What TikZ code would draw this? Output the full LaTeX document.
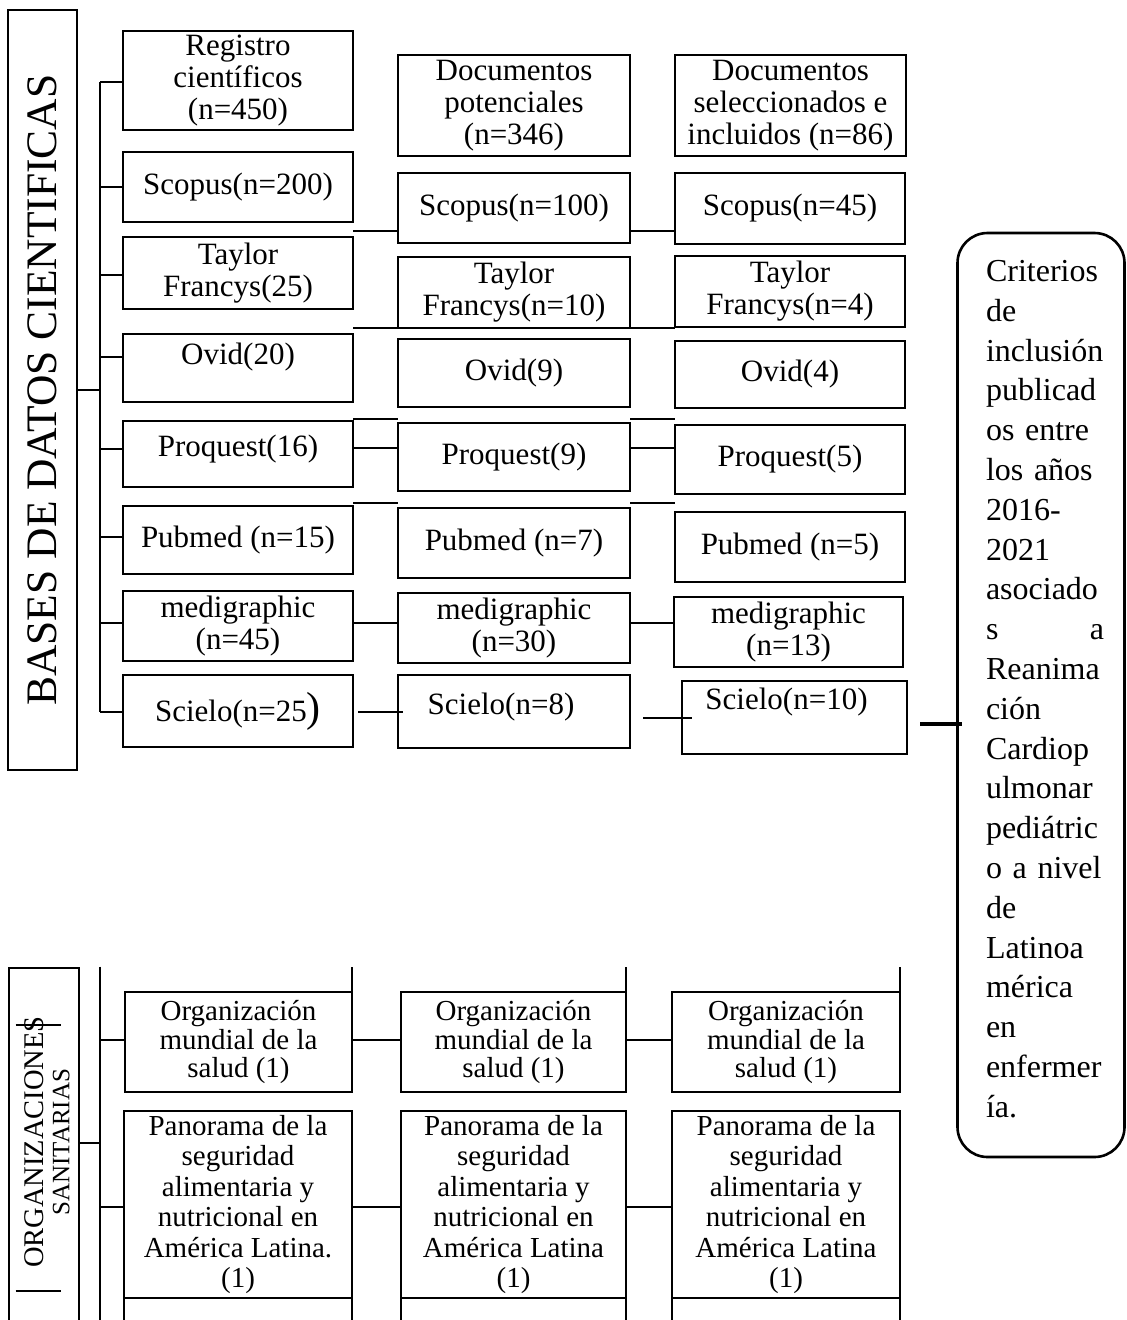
\documentclass[tikz,border=0pt]{standalone}
\usepackage{fontspec}
\setmainfont{Liberation Serif}
\newcommand\fA{\fontsize{31}{32}\selectfont}
\newcommand\fB{\fontsize{29}{28.5}\selectfont}
\newcommand\fP{\fontsize{29}{30.5}\selectfont}
\newcommand\fC{\fontsize{32}{39.8}\selectfont}
\newcommand\fD{\fontsize{43.5}{44}\selectfont}
\newcommand\bx[7][]{\node[bx,#1,minimum width={#5-#3},minimum height={#6-#4}] (#2) at ({(#3+#5)/2},{(#4+#6)/2}) {#7};}
\begin{document}
\begin{tikzpicture}[x=1pt,y=-1pt,
  bx/.style={draw, line width=2.6pt, inner sep=0pt, outer sep=0pt, align=center, font=\fA},
  ln/.style={line width=2.6pt},
  thn/.style={line width=1.5pt},
  thk/.style={line width=4pt}]
\useasboundingbox (0,0) rectangle (1127,1320);
\clip (0,0) rectangle (1127,1320);

% ---------- left title box ----------
\node[bx, rotate=90, minimum width=760, minimum height=69, font=\fD] (bases) at (42.5,390) {BASES DE DATOS CIENTIFICAS};

% ---------- column 1 ----------
\bx{r1}{123}{31}{353}{130}{Registro\\científicos\\(n=450)}
\bx{s1}{123}{152}{353}{222}{Scopus(n=200)}
\bx{t1}{123}{237}{353}{309}{Taylor\\Francys(25)}
\bx[text height=21pt, text depth=29pt]{o1}{123}{334}{353}{402}{Ovid(20)}
\bx[text height=21pt, text depth=17pt]{p1}{123}{421}{353}{487}{Proquest(16)}
\bx{pb1}{123}{506}{353}{574}{Pubmed (n=15)}
\bx{m1}{123}{591}{353}{661}{medigraphic\\(n=45)}
\bx{sc1}{123}{675}{353}{747}{Scielo(n=25{\fontsize{42}{42}\selectfont)}}

% ---------- column 2 ----------
\bx{d2}{398}{55}{630}{156}{Documentos\\potenciales\\(n=346)}
\bx{s2}{398}{173}{630}{243}{Scopus(n=100)}
\bx{t2}{398}{257}{630}{328}{Taylor\\Francys(n=10)}
\bx{o2}{398}{339}{630}{407}{Ovid(9)}
\bx{p2}{398}{423}{630}{491}{Proquest(9)}
\bx{pb2}{398}{508}{630}{578}{Pubmed (n=7)}
\bx{m2}{398}{593}{630}{663}{medigraphic\\(n=30)}
\bx[text height=21pt, text depth=15pt]{sc2}{398}{675}{630}{748}{Scielo(n=8)\hspace{26pt}}

% ---------- column 3 ----------
\bx{d3}{675}{55}{906}{156}{Documentos\\seleccionados e\\incluidos (n=86)}
\bx{s3}{675}{173}{905}{244}{Scopus(n=45)}
\bx{t3}{675}{256}{905}{327}{Taylor\\Francys(n=4)}
\bx{o3}{675}{341}{905}{408}{Ovid(4)}
\bx{p3}{675}{425}{905}{494}{Proquest(5)}
\bx{pb3}{675}{512}{905}{582}{Pubmed (n=5)}
\bx{m3}{674}{597}{903}{667}{medigraphic\\(n=13)}
\bx[text height=21pt, text depth=37pt]{sc3}{682}{681}{907}{754}{Scielo(n=10)\hspace{16pt}}

% ---------- trunk (top) ----------
% the title box is rotated, so its right side is its "south" anchor
\coordinate (tk) at (100,390);
\draw[ln] (bases.south) -- (tk);
\draw[ln] (tk |- 0,82) -- (tk |- 0,712);
\draw[ln] (tk |- 0,82) -- (r1.west |- 0,82);
\draw[ln] (tk |- s1.west) -- (s1.west);
\draw[ln] (tk |- 0,275) -- (t1.west |- 0,275);
\draw[ln] (tk |- 0,357) -- (o1.west |- 0,357);
\draw[ln] (tk |- 0,449) -- (p1.west |- 0,449);
\draw[ln] (tk |- 0,537) -- (pb1.west |- 0,537);
\draw[ln] (tk |- 0,623) -- (m1.west |- 0,623);
\draw[ln] (tk |- 0,712) -- (sc1.west |- 0,712);

% ---------- stubs between columns ----------
\foreach \yy in {231,328,419,448,503,623}{
  \draw[ln] (s1.east |- 0,\yy) -- (s2.west |- 0,\yy);
  \draw[ln] (s2.east |- 0,\yy) -- (s3.west |- 0,\yy);
}
\draw[thn] (sc1.east |- 0,712) ++(5,0) -- ++(45,0);
\draw[ln] (sc2.east |- 0,718) ++(13,0) -- ++(49,0);

% ---------- criteria box ----------
\node[draw, line width=2.6pt, rounded corners=30pt, inner sep=0pt, minimum width=167, minimum height=924] (crit) at (1041,695) {};
\node[text width=118pt, align=left, font=\fC, inner sep=0pt, anchor=center] (crittxt) at (1045,689)
 {Criterios\\de\\inclusión\\publicad\\os entre\\los años\\2016-\\2021\\asociado\\\makebox[118pt]{s\hfill a}\\Reanima\\ción\\Cardiop\\ulmonar\\pediátric\\o a nivel\\de\\Latinoa\\mérica\\en\\enfermer\\ía.};
\draw[thk] (sc3.east |- 0,724) ++(13,0) -- (crit.west |- 0,724) -- ++(6,0);

% ---------- bottom section ----------
\node[draw, line width=2.6pt, inner sep=0pt, minimum width=70, minimum height=420] (orgbox) at (44,1178) {};
\node[rotate=90, align=center, inner sep=0pt, font=\fontsize{28.5}{26}\selectfont] (orgtxt) at (47,1142)
  {ORGANIZACIONES\\{\fontsize{25}{26}\selectfont SANITARIAS}};
\draw[ln] (orgbox.west |- 0,1025) ++(8,0) -- ++(45,0);
\draw[ln] (orgbox.west |- 0,1291) ++(8,0) -- ++(45,0);

\bx[font=\fB]{og1}{125}{992}{352}{1092}{Organización\\mundial de la\\salud (1)}
\bx[font=\fP]{pa1}{124}{1111}{352}{1298}{Panorama de la\\seguridad\\alimentaria y\\nutricional en\\América Latina.\\(1)}
\bx[font=\fB]{og2}{401}{992}{626}{1092}{Organización\\mundial de la\\salud (1)}
\bx[font=\fP]{pa2}{401}{1111}{626}{1298}{Panorama de la\\seguridad\\alimentaria y\\nutricional en\\América Latina\\(1)}
\bx[font=\fB]{og3}{672}{992}{900}{1092}{Organización\\mundial de la\\salud (1)}
\bx[font=\fP]{pa3}{672}{1111}{900}{1298}{Panorama de la\\seguridad\\alimentaria y\\nutricional en\\América Latina\\(1)}
\bx{nx1}{124}{1298}{352}{1360}{}
\bx{nx2}{401}{1298}{626}{1360}{}
\bx{nx3}{672}{1298}{900}{1360}{}

\draw[ln] (og1.north east) -- ++(0,-25);
\draw[ln] (og2.north east) -- ++(0,-25);
\draw[ln] (og3.north east) -- ++(0,-25);

\coordinate (tk2) at (100,1143);
\draw[ln] (orgbox.east |- tk2) -- (tk2);
\draw[ln] (tk2 |- orgbox.north) -- (tk2 |- 0,1320);
\draw[ln] (tk2 |- 0,1040) -- (og1.west |- 0,1040);
\draw[ln] (tk2 |- 0,1207) -- (pa1.west |- 0,1207);
\draw[ln] (og1.east |- 0,1040) -- (og2.west |- 0,1040);
\draw[ln] (og2.east |- 0,1040) -- (og3.west |- 0,1040);
\draw[ln] (pa1.east |- 0,1207) -- (pa2.west |- 0,1207);
\draw[ln] (pa2.east |- 0,1207) -- (pa3.west |- 0,1207);
\end{tikzpicture}
\end{document}
